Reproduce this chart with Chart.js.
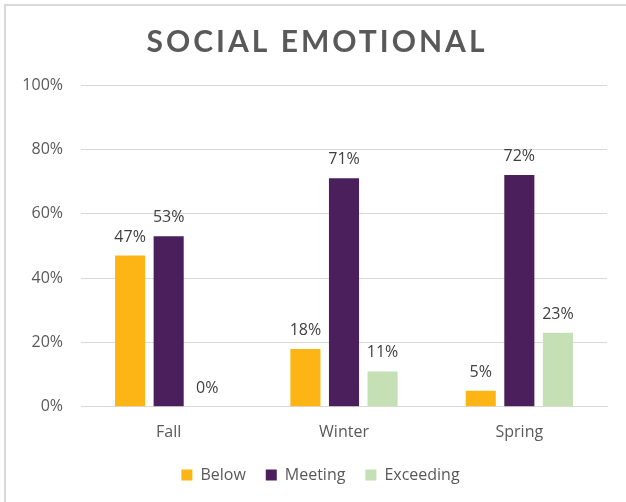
<!DOCTYPE html>
<html>
<head>
<meta charset="utf-8">
<script src="https://cdn.jsdelivr.net/npm/chart.js@4.4.1/dist/chart.umd.min.js"></script>
<style>
  html, body { margin: 0; padding: 0; background: #fff; }
  #wrap { position: relative; width: 626px; height: 502px; overflow: hidden; }
  #frame { position: absolute; left: 4px; top: 4px; width: 640px; height: 520px;
           border-left: 2px solid #d9d9d9; border-top: 2px solid #d9d9d9; }
  canvas { position: absolute; left: 0; top: 0; }
</style>
</head>
<body>
<div id="wrap">
  <div id="frame"></div>
  <canvas id="chart" width="626" height="502"></canvas>
</div>
<script>
// values
const chartTitle = 'SOCIAL EMOTIONAL';
const categories = ['Fall', 'Winter', 'Spring'];
const seriesNames = ['Below', 'Meeting', 'Exceeding'];
const below = [47, 18, 5];
const meeting = [53, 71, 72];
const exceeding = [0, 11, 23];
const yTicks = [0, 20, 40, 60, 80, 100];

const colors = ['#FDB515', '#4B1F5C', '#C5E0B4'];
const textColor = '#595959';

// value labels on top of each bar
const barLabels = {
  id: 'barLabels',
  afterDatasetsDraw(chart) {
    const ctx = chart.ctx;
    ctx.save();
    ctx.font = '16px "Open Sans"';
    ctx.fillStyle = '#404040';
    ctx.textAlign = 'center';
    ctx.textBaseline = 'alphabetic';
    chart.data.datasets.forEach((ds, i) => {
      chart.getDatasetMeta(i).data.forEach((bar, j) => {
        ctx.fillText(ds.data[j] + '%', bar.x, bar.y - 14);
      });
    });
    ctx.restore();
  }
};

// spaced title
const spacedTitle = {
  id: 'spacedTitle',
  afterDraw(chart) {
    const ctx = chart.ctx;
    ctx.save();
    ctx.font = 'bold 30px Lato';
    ctx.letterSpacing = '3px';
    ctx.fillStyle = textColor;
    ctx.textAlign = 'center';
    ctx.textBaseline = 'middle';
    ctx.fillText(chartTitle, 317, 42);
    ctx.restore();
  }
};

// legend sits a bit right of the canvas centre and close under the axis
const moveLegend = {
  id: 'moveLegend',
  afterLayout(chart) {
    chart.legend.left += 34;
    chart.legend.top -= 3;
  }
};

new Chart(document.getElementById('chart'), {
  type: 'bar',
  data: {
    labels: categories,
    datasets: [
      { label: seriesNames[0], data: below, backgroundColor: colors[0] },
      { label: seriesNames[1], data: meeting, backgroundColor: colors[1] },
      { label: seriesNames[2], data: exceeding, backgroundColor: colors[2] }
    ]
  },
  options: {
    responsive: false,
    animation: false,
    categoryPercentage: 0.66,
    barPercentage: 0.78,
    layout: { padding: { left: 0, right: 19, top: 85, bottom: 6 } },
    plugins: {
      legend: {
        position: 'bottom',
        labels: {
          boxWidth: 11, boxHeight: 11, padding: 20,
          color: textColor,
          font: { family: '"Open Sans"', size: 16 }
        }
      },
      tooltip: { enabled: false }
    },
    scales: {
      x: {
        grid: { display: false },
        border: { color: '#d9d9d9' },
        ticks: { color: textColor, padding: 8, font: { family: '"Open Sans"', size: 16 } }
      },
      y: {
        min: 0, max: 100,
        afterFit: function (scale) { scale.width = 81; },
        afterBuildTicks: function (scale) { scale.ticks = yTicks.map(v => ({ value: v })); },
        grid: { color: '#d9d9d9', drawTicks: false },
        border: { display: false },
        ticks: {
          color: textColor, padding: 18,
          font: { family: '"Open Sans"', size: 16 },
          callback: v => v + '%'
        }
      }
    }
  },
  plugins: [barLabels, spacedTitle, moveLegend]
});
</script>
</body>
</html>
